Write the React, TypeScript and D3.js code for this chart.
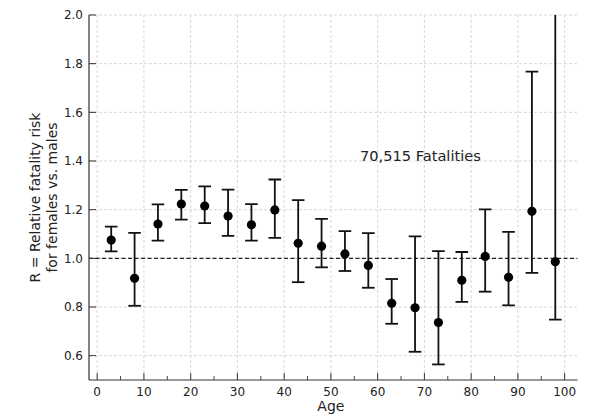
import React from 'react';
import * as d3 from 'd3';

const ages = [3, 8, 13, 18, 23, 28, 33, 38, 43, 48, 53, 58, 63, 68, 73, 78, 83, 88, 93, 98];
const ratio = [1.075, 0.918, 1.141, 1.223, 1.215, 1.174, 1.138, 1.199, 1.062, 1.05, 1.018, 0.971, 0.815, 0.797, 0.736, 0.91, 1.008, 0.922, 1.193, 0.986];
const upper = [1.13, 1.105, 1.222, 1.281, 1.296, 1.282, 1.223, 1.324, 1.239, 1.162, 1.112, 1.104, 0.915, 1.09, 1.03, 1.026, 1.201, 1.109, 1.767, 2.3];
const lower = [1.029, 0.805, 1.073, 1.159, 1.145, 1.092, 1.073, 1.084, 0.902, 0.963, 0.948, 0.879, 0.731, 0.616, 0.564, 0.821, 0.863, 0.807, 0.94, 0.748];
const xTicks = [0, 10, 20, 30, 40, 50, 60, 70, 80, 90, 100];
const xMinorTicks = [5, 15, 25, 35, 45, 55, 65, 75, 85, 95];
const yTicks = [0.6, 0.8, 1.0, 1.2, 1.4, 1.6, 1.8, 2.0];
const annotation = '70,515 Fatalities';

export default function App() {
  const W = 599, H = 417;
  const L = 89, R = 577.5, T = 15, B = 380;
  const x = d3.scaleLinear().domain([-1.75, 102.75]).range([L, R]);
  const y = d3.scaleLinear().domain([0.5, 2.0]).range([B, T]);
  const font = 'DejaVu Sans, sans-serif';
  const ink = '#111';
  return (
    <svg width={W} height={H} style={{ position: 'absolute', left: 0, top: 0 }} fontFamily={font}>
      <rect width={W} height={H} fill="#fff" />
      <defs>
        <clipPath id="plot"><rect x={L} y={T} width={R - L} height={B - T} /></clipPath>
      </defs>
      {xTicks.map(t => (
        <line key={'gx' + t} x1={x(t)} x2={x(t)} y1={T} y2={B} stroke="#d4d4d4" strokeWidth={0.9} strokeDasharray="3,2" />
      ))}
      {yTicks.map(t => (
        <line key={'gy' + t} x1={L} x2={R} y1={y(t)} y2={y(t)} stroke="#d4d4d4" strokeWidth={0.9} strokeDasharray="3,2" />
      ))}
      <line x1={L} x2={R} y1={y(1)} y2={y(1)} stroke="#222" strokeWidth={1.3} strokeDasharray="4,2.5" />
      <g clipPath="url(#plot)">
        {ages.map((a, i) => (
          <g key={'e' + a}>
            <line x1={x(a)} x2={x(a)} y1={y(lower[i])} y2={y(upper[i])} stroke={ink} strokeWidth={1.8} />
            <line x1={x(a) - 6.3} x2={x(a) + 6.3} y1={y(lower[i])} y2={y(lower[i])} stroke={ink} strokeWidth={1.8} />
            <line x1={x(a) - 6.3} x2={x(a) + 6.3} y1={y(upper[i])} y2={y(upper[i])} stroke={ink} strokeWidth={1.8} />
            <circle cx={x(a)} cy={y(ratio[i])} r={4.6} fill="#000" />
          </g>
        ))}
      </g>
      <line x1={L} x2={L} y1={T} y2={B} stroke="#333" strokeWidth={1.2} />
      <line x1={L} x2={R} y1={B} y2={B} stroke="#333" strokeWidth={1.2} />
      {xTicks.map(t => (
        <g key={'xt' + t}>
          <line x1={x(t)} x2={x(t)} y1={B} y2={B - 7} stroke="#333" strokeWidth={1} />
          <text x={x(t)} y={B + 16} textAnchor="middle" fontSize={12} fill="#222">{t}</text>
        </g>
      ))}
      {xMinorTicks.map(t => (
        <line key={'xm' + t} x1={x(t)} x2={x(t)} y1={B} y2={B - 4} stroke="#333" strokeWidth={0.9} />
      ))}
      {yTicks.map(t => (
        <g key={'yt' + t}>
          <line x1={L} x2={L + 7} y1={y(t)} y2={y(t)} stroke="#333" strokeWidth={1} />
          <text x={L - 6} y={y(t) + 4.3} textAnchor="end" fontSize={12} fill="#222">{t.toFixed(1)}</text>
        </g>
      ))}
      <text x={x(50)} y={411} textAnchor="middle" fontSize={14} fill="#222">Age</text>
      <g transform={`translate(40, ${(T + B) / 2}) rotate(-90)`}>
        <text x={0} y={0} textAnchor="middle" fontSize={14} fill="#222">R = Relative fatality risk</text>
        <text x={0} y={17} textAnchor="middle" fontSize={14} fill="#222">for females vs. males</text>
      </g>
      <text x={360} y={161} fontSize={14.6} fill="#222">{annotation}</text>
    </svg>
  );
}
